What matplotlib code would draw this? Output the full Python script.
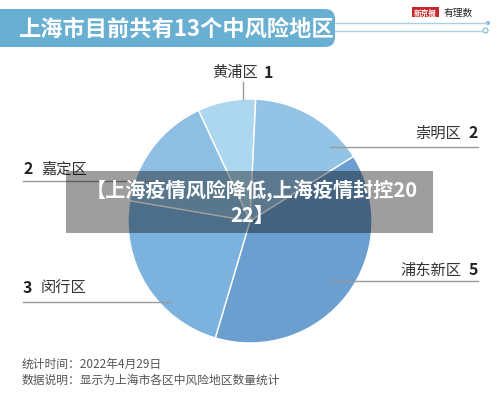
import matplotlib
matplotlib.use("Agg")
from matplotlib import pyplot as plt
from matplotlib.patches import FancyBboxPatch, Rectangle, Circle

plt.rcParams['font.family'] = ['Noto Sans CJK SC', 'DejaVu Sans']

districts = ["黄浦区", "崇明区", "浦东新区", "闵行区", "嘉定区"]
counts = [1, 2, 5, 3, 2]
colors = ["#acd7ee", "#93c3e5", "#6b9fd0", "#7cb2de", "#8ebfe3"]
title = "上海市目前共有13个中风险地区"
overlay = "【上海疫情风险降低,上海疫情封控20\n22】"
note_time = "统计时间：2022年4月29日"
note_desc = "数据说明：显示为上海市各区中风险地区数量统计"

W, H = 500, 406
fig = plt.figure(figsize=(W / 100, H / 100), dpi=100)
ax = fig.add_axes([0, 0, 1, 1])
ax.set_xlim(0, W)
ax.set_ylim(0, H)
ax.set_aspect("equal")
ax.axis("off")

def Y(y):
    return H - y

# pie
ax.pie(counts, colors=colors, startangle=115, counterclock=False,
       center=(250, Y(222)), radius=122,
       wedgeprops=dict(edgecolor="white", linewidth=1))
ax.set_xlim(0, W)
ax.set_ylim(0, H)
ax.set_aspect("equal")
ax.axis("off")

# title banner
ax.add_patch(FancyBboxPatch((-20, Y(48)), 355, 38, boxstyle="round,pad=0,rounding_size=10",
                            facecolor="#69afd1", edgecolor="none"))
ax.text(18, Y(29), title, color="white", fontsize=16, fontweight="bold", va="center", ha="left")
ax.plot([335, 487], [Y(24), Y(24)], color="#a9cfe0", lw=1)
ax.plot([335, 483], [Y(31.5), Y(31.5)], color="#a9cfe0", lw=1)
ax.add_patch(Circle((488, Y(24)), 2, facecolor="#7fb6d3", edgecolor="none"))
ax.add_patch(Circle((485.5, Y(31.5)), 2.5, facecolor="white", edgecolor="#7fb6d3", lw=0.8))

# logo
ax.add_patch(Rectangle((412, Y(18)), 27, 10, facecolor="#c8282d", edgecolor="none"))
ax.text(425.5, Y(13), "新京报", color="white", fontsize=5.5, fontweight="bold", ha="center", va="center")
ax.text(444, Y(13), "有理数", color="#222222", fontsize=7, style="italic", ha="left", va="center")

# labels
lab = dict(fontsize=11, color="#333333", va="center")
num = dict(fontsize=11.5, color="#222222", fontweight="bold", va="center")
line = dict(color="#999999", lw=1)

ax.text(258, Y(73), districts[0], ha="right", **lab)
ax.text(264, Y(73), str(counts[0]), ha="left", **num)
ax.plot([243, 243], [Y(83), Y(100)], **line)

ax.text(461, Y(133), districts[1], ha="right", **lab)
ax.text(478, Y(133), str(counts[1]), ha="right", **num)
ax.plot([330, 478], [Y(148), Y(148)], **line)

ax.text(461, Y(270), districts[2], ha="right", **lab)
ax.text(478, Y(270), str(counts[2]), ha="right", **num)
ax.plot([330, 478], [Y(282), Y(282)], **line)

ax.text(23, Y(169), str(counts[4]), ha="left", **num)
ax.text(41, Y(169), districts[4], ha="left", **lab)
ax.plot([23, 165], [Y(182), Y(182)], **line)

ax.text(23, Y(288), str(counts[3]), ha="left", **num)
ax.text(41, Y(288), districts[3], ha="left", **lab)
ax.plot([23, 170], [Y(303), Y(303)], **line)

# footer
ax.text(22, Y(364), note_time, fontsize=8.5, color="#555555", ha="left", va="center")
ax.text(22, Y(380), note_desc, fontsize=8.5, color="#555555", ha="left", va="center")

# overlay
ax.add_patch(Rectangle((66, Y(234)), 367, 62, facecolor="black", alpha=0.38, edgecolor="none", zorder=5))
ax.text(252, Y(203), overlay, color="white", fontsize=14.5, fontweight="bold",
        ha="center", va="center", linespacing=1.15, zorder=6)

fig.savefig("out.png", dpi=100)
